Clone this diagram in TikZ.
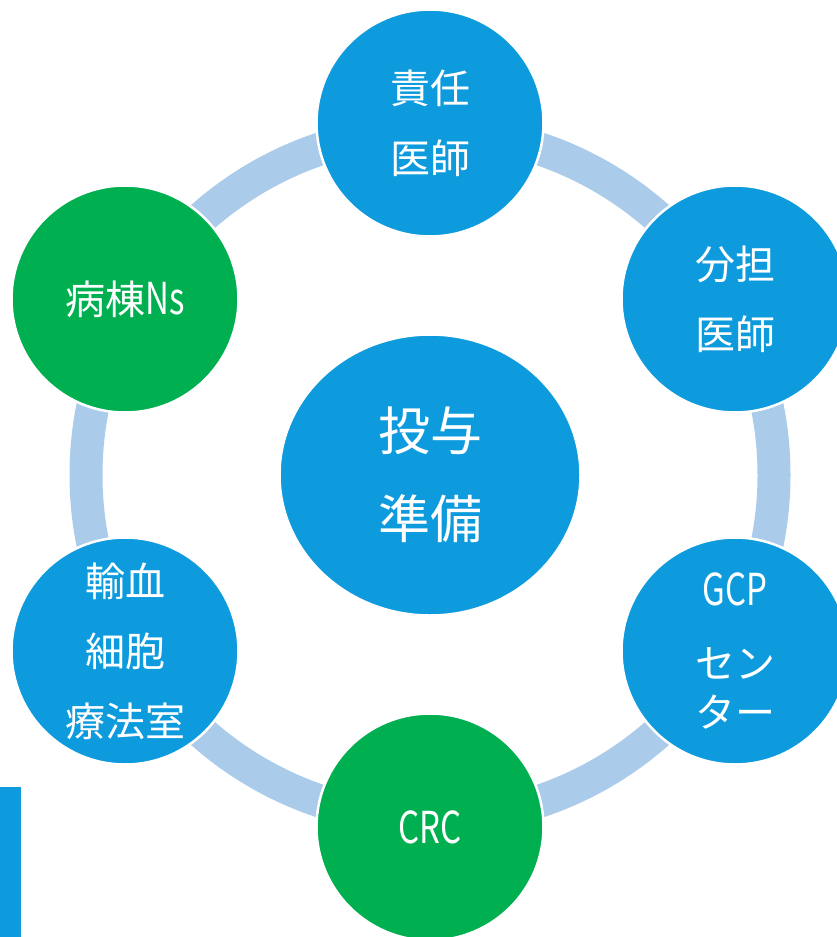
\documentclass[tikz,border=0pt]{standalone}
\usepackage{fontspec}
\usetikzlibrary{shapes.geometric}
\newfontfamily\jpf{Noto Sans CJK JP}
\newfontfamily\latf[FakeStretch=0.75]{Noto Sans CJK JP}
\definecolor{cblue}{HTML}{0D9BDD}
\definecolor{cgreen}{HTML}{00B050}
\definecolor{cring}{HTML}{ABCBEB}
\tikzset{
  member/.style={circle, minimum size=227pt, inner sep=0pt, draw=white, line width=2.5pt,
    fill=cblue, text=white, align=center, font=\jpf\fontsize{40}{70}\selectfont},
  staff/.style={member, fill=cgreen},
  hub/.style={ellipse, minimum width=301pt, minimum height=281pt, inner sep=0pt, draw=white,
    line width=2.5pt, fill=cblue, text=white, align=center, font=\jpf\fontsize{52}{88}\selectfont},
  ringline/.style={draw=cring, line width=33pt},
  lat/.style={}
}
\newcommand{\lt}[1]{{\latf\fontsize{44}{49}\selectfont #1}}
\begin{document}
\begin{tikzpicture}[x=1pt,y=-1pt]
\useasboundingbox (0,0) rectangle (836,937);
\coordinate (o) at (430,475);
\draw[ringline] (o) circle[radius=344];
\node[hub] (ctr) at (o) {投与\\準備};
\node[member] (n1) at (430,123) {責任\\医師};
\node[member] (n2) at (735,299) {分担\\医師};
\node[member, font=\jpf\fontsize{40}{49}\selectfont] (n3) at (735,651) {\lt{GCP}\\[24pt]セン\\ター};
\node[staff] (n4) at (430,827) {\lt{CRC}};
\node[member] (n5) at (125,651) {輸血\\細胞\\療法室};
\node[staff] (n6) at (125,299) {病棟\lt{Ns}};
\fill[cblue] (0,787) rectangle (21,937);
\end{tikzpicture}
\end{document}
